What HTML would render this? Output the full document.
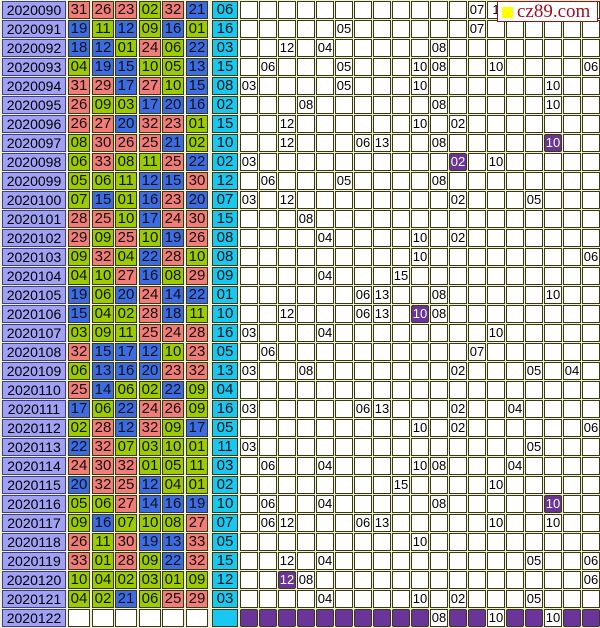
<!DOCTYPE html>
<html><head><meta charset="utf-8">
<style>
html,body{margin:0;padding:0;background:#f4f4e4;}
#c{position:relative;width:600px;height:628px;overflow:hidden;background:#f0f0dc;font-family:"Liberation Sans",sans-serif;}
.b{position:absolute;box-sizing:border-box;border:1px solid #3a3a10;text-align:center;color:#000;}
.d{background:#a0a0f4;font-size:14px;line-height:16px;border-color:#404080;}
.ball{font-size:15px;line-height:16px;color:#111;}
.r{background:#f27c78;}.u{background:#3c6ce4;}.g{background:#9ccc00;}.cy{background:#18c8f0;}
.w{background:#fff;}
.gc{font-size:13px;line-height:16px;background:#fff;}
.p{background:#6a3498;color:#fff;border-radius:2px;}
#logo{position:absolute;left:497px;top:1px;width:101px;height:21px;box-sizing:border-box;border:1px solid #a01010;background:#fff;font-family:"Liberation Serif",serif;font-size:19px;color:#a01020;line-height:19px;}
#logo span{display:inline-block;width:11px;height:11px;background:#ffff00;margin:0 4px 0 4px;vertical-align:-1px;}
</style></head><body><div id="c"></div>
<script>
var balls=[
"31 26 23 02 32 21 06","19 11 12 09 16 01 16","18 12 01 24 06 22 03","04 19 15 10 05 13 15",
"31 29 17 27 10 15 08","26 09 03 17 20 16 02","26 27 20 32 23 01 15","08 30 26 25 21 02 10",
"06 33 08 11 25 22 02","05 06 11 12 15 30 12","07 15 01 16 23 20 07","28 25 10 17 24 30 15",
"29 09 25 10 19 26 08","09 32 04 22 28 10 08","04 10 27 16 08 29 09","19 06 20 24 14 22 01",
"15 04 02 28 18 11 10","03 09 11 25 24 28 16","32 15 17 12 10 23 05","06 13 16 20 23 32 13",
"25 14 06 02 22 09 04","17 06 22 24 26 09 16","02 28 12 32 09 17 05","22 32 07 03 10 01 11",
"24 30 32 01 05 11 03","20 32 25 12 04 01 02","05 06 27 14 16 19 10","09 16 07 10 08 27 07",
"26 11 30 19 13 33 05","33 01 28 09 22 32 15","10 04 02 03 01 09 12","04 02 21 06 25 29 03",""];
var grid=[
"12:07,13:1","5:05,12:07","2:12,4:04,10:08","1:06,5:05,9:10,10:08,13:10,18:06",
"0:03,5:05,9:10,16:10","3:08,10:08,16:10","2:12,9:10,11:02","2:12,6:06,7:13,10:08,16:10p",
"0:03,11:02p,13:10","1:06,5:05,10:08","0:03,2:12,11:02,15:05","3:08",
"4:04,9:10,11:02","9:10,18:06","4:04,8:15","6:06,7:13,10:08,16:10",
"2:12,6:06,7:13,9:10p,10:08","0:03,4:04,13:10","1:06,12:07","0:03,3:08,11:02,15:05,17:04",
"","0:03,6:06,7:13,11:02,14:04","9:10,11:02,18:06","0:03,15:05",
"1:06,4:04,9:10,10:08,14:04","8:15,13:10","1:06,4:04,10:08,16:10p","1:06,2:12,6:06,7:13,13:10,16:10",
"9:10","2:12,4:04,15:05,18:06","2:12p,3:08,18:06","4:04,9:10,11:02,15:05",""];
var h='';
function box(x,y,w,hh,cls,t){h+='<div class="b '+cls+'" style="left:'+x+'px;top:'+y+'px;width:'+w+'px;height:'+hh+'px">'+t+'</div>';}
for(var r=0;r<33;r++){
 var y=1+r*19;
 box(2,y,64,18,'d','2020'+String(90+r).padStart(3,'0'));
 var bs=balls[r]?balls[r].split(' '):[];
 for(var i=0;i<6;i++){
  var x=Math.round(68+23.5*i);
  if(!bs.length){box(x,y,22,18,'w','');continue;}
  var n=+bs[i];var c=n<=11?'g':(n<=22?'u':'r');
  box(x,y,22,18,'ball '+c,bs[i]);
 }
 box(212,y,26,18,'ball cy',bs.length?bs[6]:'');
 var m={};
 if(grid[r])grid[r].split(',').forEach(function(s){var a=s.split(':');m[a[0]]=a[1];});
 for(var k=0;k<19;k++){
  var x=240+19*k,v=m[k]||'',cls='gc';
  if(v.slice(-1)=='p'){v=v.slice(0,-1);cls+=' p';}
  if(r==32){cls=(k==10||k==13||k==16)?'gc':'gc p';}
  if(r==32&&k==10)v='08';
  if(r==32&&(k==13||k==16))v='10';
  box(x,y,18,18,cls,v);
 }
}
h+='<div id="logo"><span></span>cz89.com</div>';
document.getElementById('c').innerHTML=h;
</script></body></html>
